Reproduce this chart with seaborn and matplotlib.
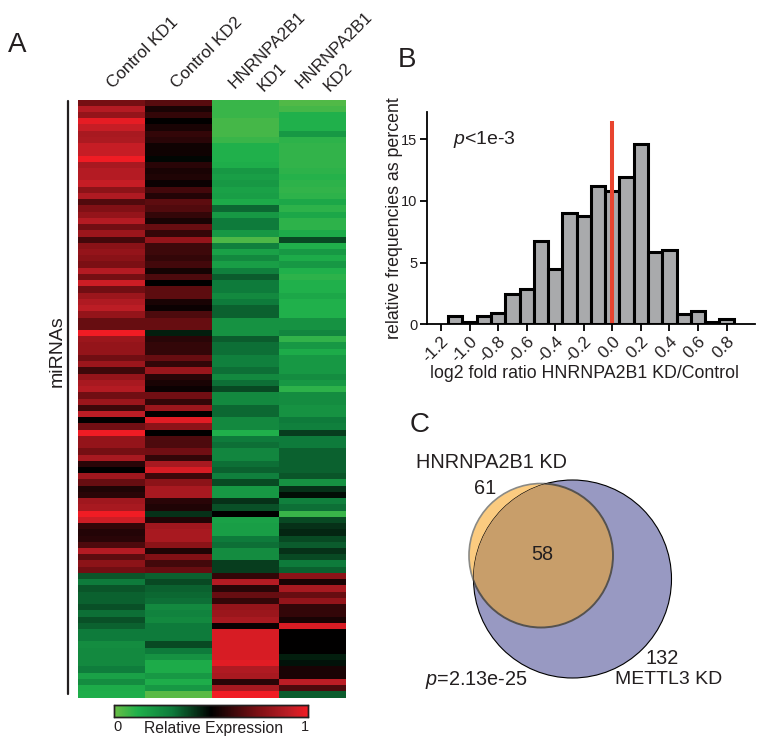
import numpy as np
import pandas as pd
import matplotlib
matplotlib.use("Agg")
import matplotlib.pyplot as plt
from matplotlib.colors import LinearSegmentedColormap
from matplotlib.patches import Circle
import seaborn as sns

# Valores
muestras = ["Control KD1", "Control KD2", "HNRNPA2B1", "KD1", "HNRNPA2B1", "KD2"]

control_kd1 = [.73, .88, .80, .98, .92, .85, .86, .92, .92, 1.0, .85, .88, .88, .92, .78, .87,
               .66, .75, .80, .88, .72, .82, .63, .77, .80, .77, .74, .88, .73, .93, .72, .82, .87,
               .90, .80, .70, .70, 1.0, .82, .80, .80, .72, .82, .62, .80, .85, .88, .72, .82, .62,
               .90, .50, .72, 1.0, .80, .80, .73, .85, .58, .50, .83, .70, .56, .58, .83, .85,
               1.0, .93, .60, .57, .58, .65, .88, .68, .78, .72, .36, .30, .36, .34, .34, .37,
               .32, .37, .34, .30, .30, .24, .25, .25, .25, .29, .17, .24, .14, .13]
control_kd2 = [.67, .55, .60, .50, .55, .60, .58, .53, .53, .49, .58, .55, .56, .52, .63, .57,
               .68, .66, .60, .55, .70, .60, .80, .62, .62, .60, .63, .54, .65, .50, .68, .68, .55,
               .52, .65, .70, .70, .45, .58, .60, .60, .70, .60, .82, .58, .55, .52, .72, .60, .82,
               .50, .97, .78, .50, .65, .65, .72, .60, .85, .95, .62, .78, .85, .85, .58, .56,
               .42, .57, .83, .85, .85, .78, .56, .75, .63, .70, .34, .38, .34, .33, .32, .25,
               .27, .25, .30, .30, .30, .38, .30, .22, .14, .14, .20, .13, .20, .03]
hnrnp_kd1 = [.08, .08, .08, .06, .06, .06, .08, .12, .12, .12, .13, .20, .18, .20, .17, .18,
             .14, .33, .20, .30, .30, .20, .05, .28, .17, .25, .18, .28, .35, .30, .30, .25, .30,
             .34, .34, .22, .22, .22, .35, .32, .32, .28, .28, .32, .25, .32, .38, .25, .25, .33,
             .33, .25, .25, .12, .30, .32, .26, .26, .32, .34, .28, .38, .20, .20, .42, .37,
             .50, .17, .18, .18, .30, .32, .24, .24, .40, .40, .60, .88, .58, .70, .60, .80,
             .82, .85, .52, .95, .95, .95, .95, .95, .97, .87, .85, .58, .85, 1.0]
hnrnp_kd2 = [.04, .06, .12, .12, .12, .20, .10, .09, .09, .09, .09, .10, .11, .10, .09, .10,
             .15, .10, .15, .10, .10, .14, .38, .12, .20, .14, .20, .12, .10, .12, .12, .15, .12,
             .12, .12, .22, .22, .26, .09, .20, .14, .20, .20, .20, .24, .20, .10, .24, .24, .22,
             .22, .30, .28, .40, .30, .30, .34, .34, .34, .34, .36, .22, .42, .48, .28, .32,
             .08, .38, .42, .44, .38, .35, .42, .38, .30, .34, .78, .55, .85, .70, .80, .60,
             .60, .55, .95, .50, .50, .50, .50, .45, .47, .55, .55, .90, .65, .35]

centros = [-1.1, -1.0, -0.9, -0.8, -0.7, -0.6, -0.5, -0.4, -0.3, -0.2,
           -0.1, 0.0, 0.1, 0.2, 0.3, 0.4, 0.5, 0.6, 0.7, 0.8]
frecuencias = [0.65, 0.2, 0.65, 0.9, 2.45, 2.9, 6.75, 4.5, 9.0, 8.75,
               11.2, 10.8, 11.9, 14.6, 5.85, 6.05, 0.85, 1.1, 0.2, 0.4]
ticks_x = [-1.2, -1.0, -0.8, -0.6, -0.4, -0.2, 0.0, 0.2, 0.4, 0.6, 0.8]
ticks_y = [0, 5, 10, 15]

W, H = 764, 745


def ejes(fig, x0, y0, x1, y1, **kw):
    # rectangulo en pixeles de la imagen
    return fig.add_axes([x0 / W, 1 - y1 / H, (x1 - x0) / W, (y1 - y0) / H], **kw)


sns.set_theme(style="white")
plt.rcParams["font.family"] = ["Liberation Sans", "DejaVu Sans"]
plt.rcParams["mathtext.fontset"] = "custom"
plt.rcParams["mathtext.it"] = "Liberation Sans:italic"
plt.rcParams["mathtext.rm"] = "Liberation Sans"
negro = "#231f20"

fig = plt.figure(figsize=(W / 100, H / 100), dpi=100)

# Capa de fondo para rotulos y Venn
fondo = ejes(fig, 0, 0, W, H)
fondo.set_xlim(0, W)
fondo.set_ylim(H, 0)
fondo.axis("off")

# A: heatmap
cmap = LinearSegmentedColormap.from_list(
    "expr", [(0, "#6abd45"), (.12, "#1fb04b"), (.3, "#0e7a3b"), (.5, "#000000"),
             (.75, "#801015"), (.9, "#bb1d25"), (1, "#f01c24")])
matriz = np.array([control_kd1, control_kd2, hnrnp_kd1, hnrnp_kd2]).T
ax_h = ejes(fig, 78, 99.5, 346, 697.5)
ax_c = ejes(fig, 114, 705, 308, 717)
sns.heatmap(matriz, ax=ax_h, cmap=cmap, vmin=0, vmax=1, cbar_ax=ax_c,
            cbar_kws={"orientation": "horizontal"}, xticklabels=False, yticklabels=False)
ax_c.set_xticks([])
for s in ax_c.spines.values():
    s.set_visible(True)
    s.set_color(negro)
    s.set_linewidth(1.0)

fondo.plot([68, 68], [101, 694], color=negro, lw=1.6)
fondo.text(57, 351, "miRNAs", rotation=90, ha="center", va="center", fontsize=14, color=negro)
fondo.text(118, 727, "0", ha="center", va="center", fontsize=10.5, color=negro)
fondo.text(214, 728, "Relative Expression", ha="center", va="center", fontsize=11.3, color=negro)
fondo.text(305, 727, "1", ha="center", va="center", fontsize=10.5, color=negro)

pos_col = [(143, 53), (207, 53), (267, 50), (272, 77), (334, 50), (338, 77)]
for nombre, (cx, cy) in zip(muestras, pos_col):
    fondo.text(cx, cy, nombre, rotation=45, ha="center", va="center",
               fontsize=12.3, color=negro, rotation_mode="anchor")

for letra, lx, ly in [("A", 17, 45), ("B", 407, 60), ("C", 420, 425)]:
    fondo.text(lx, ly, letra, ha="center", va="center", fontsize=20, color=negro)

# B: histograma
ax_b = ejes(fig, 427.3, 112, 755, 324.3)
ax_b.patch.set_alpha(0)
hist = pd.DataFrame({"ratio": centros, "frecuencia": frecuencias})
sns.histplot(data=hist, x="ratio", weights="frecuencia", bins=20, binrange=(-1.15, 0.85), ax=ax_b,
             color="#a9aaac", alpha=1, edgecolor="black", linewidth=2.2)
ax_b.plot([0, 0], [0, 16.5], color="#e8442f", lw=2.9, solid_capstyle="butt")
ax_b.set_xlim(-1.296, 0.999)
ax_b.set_ylim(0, 17.2)
ax_b.set_xticks(ticks_x)
ax_b.set_xticklabels([f"{t:.1f}" for t in ticks_x], rotation=45, ha="right", rotation_mode="anchor",
                     fontsize=12.3, color=negro)
ax_b.set_yticks(ticks_y)
ax_b.set_yticklabels([str(t) for t in ticks_y], fontsize=10.5, color=negro)
ax_b.tick_params(axis="both", length=5, width=1.3, color="black", bottom=True, left=True, pad=2)
ax_b.set_xlabel("log2 fold ratio HNRNPA2B1 KD/Control", fontsize=12.8, color=negro, labelpad=0, x=0.48)
ax_b.set_ylabel("relative frequencies as percent", fontsize=12.8, color=negro, labelpad=-1)
sns.despine(ax=ax_b)
for lado in ["left", "bottom"]:
    ax_b.spines[lado].set_color("black")
    ax_b.spines[lado].set_linewidth(1.3)
ax_b.text(-1.118, 15, "$\\mathit{p}$<1e-3", fontsize=14, color=negro, va="center")

# C: Venn
grande = Circle((572.5, 579), 99, facecolor="#9899c2", edgecolor="black", lw=0.8, zorder=3)
chico = Circle((541, 555.5), 72, facecolor="#fbcb80", edgecolor="#8a8a86", lw=1.2, zorder=2)
interseccion = Circle((541, 555.5), 72, facecolor="#c89e6a", edgecolor="#55524f", lw=1.4, zorder=4)
fondo.add_patch(chico)
fondo.add_patch(grande)
fondo.add_patch(interseccion)
interseccion.set_clip_path(Circle((572.5, 579), 99, transform=fondo.transData))

fondo.text(491, 462, "HNRNPA2B1 KD", ha="center", va="center", fontsize=14.3, color=negro)
fondo.text(485, 488, "61", ha="center", va="center", fontsize=14.3, color=negro, zorder=5)
fondo.text(542, 554, "58", ha="center", va="center", fontsize=14.3, color=negro, zorder=5)
fondo.text(662, 659, "132", ha="center", va="center", fontsize=14.3, color=negro, zorder=5)
fondo.text(669, 680, "METTL3 KD", ha="center", va="center", fontsize=14, color=negro, zorder=5)
fondo.text(476, 680, "$\\mathit{p}$=2.13e-25", ha="center", va="center", fontsize=14.3, color=negro,
           zorder=5)

fig.savefig("out.png", dpi=100)
